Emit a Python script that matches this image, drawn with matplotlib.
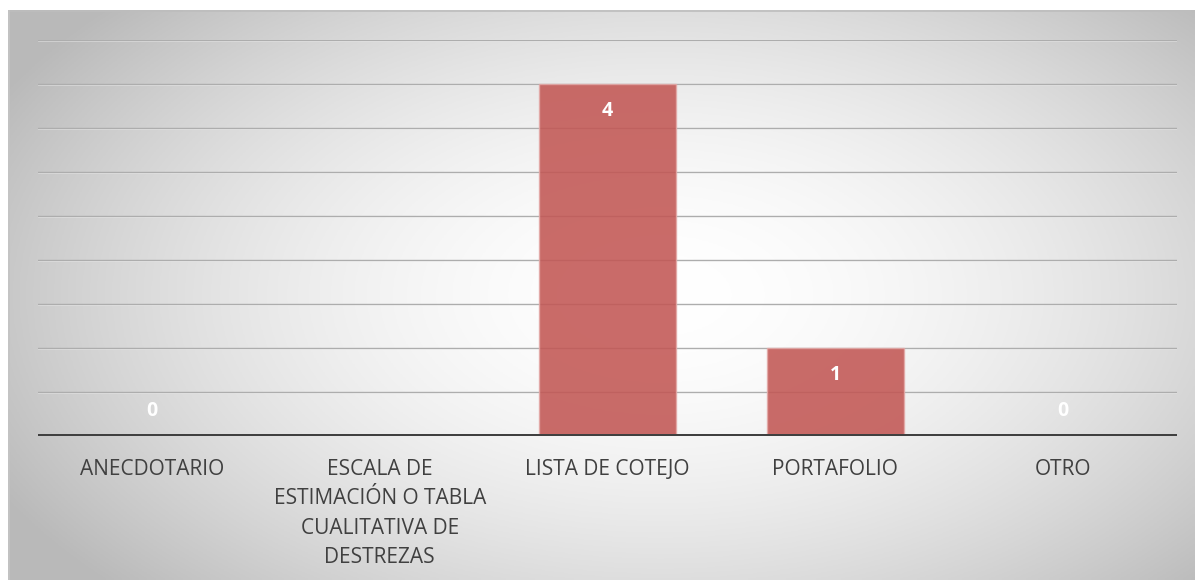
import numpy as np
import matplotlib
matplotlib.use("Agg")
import matplotlib.pyplot as plt

categories = ["ANECDOTARIO",
              "ESCALA DE\nESTIMACIÓN O TABLA\nCUALITATIVA DE\nDESTREZAS",
              "LISTA DE COTEJO", "PORTAFOLIO", "OTRO"]
values = [0, np.nan, 4, 1, 0]
y_max = 4.5
grid_step = 0.5

W, H = 1195, 580
fig = plt.figure(figsize=(W / 100, H / 100), dpi=100)
fig.patch.set_facecolor("white")

# background radial gradient
bx0, by1 = 8 / W, 1 - 10 / H
bg = fig.add_axes([bx0, 0, 1 - bx0, by1])
bg.set_axis_off()
nx, ny = 400, 200
xs = np.linspace(0, 1, nx)
ys = np.linspace(0, 1, ny)
X, Y = np.meshgrid(xs, ys)
cx, cy = 0.55, 0.5
R = np.sqrt(((X - cx) / 0.6) ** 2 + ((Y - cy) / 0.72) ** 2)
val = 1 - 0.25 * np.clip(R, 0, 1.05) ** 1.8
img = np.dstack([val, val, val])
bg.imshow(img, extent=[0, 1, 0, 1], origin="upper", aspect="auto")
bg.set_xlim(0, 1)
bg.set_ylim(0, 1)
bg.plot([0, 1], [0.998, 0.998], color="#BDBDBD", lw=1.2)
bg.plot([0.001, 0.001], [0, 1], color="#C4C4C4", lw=1.2)

ax = fig.add_axes([38 / W, 1 - 436 / H, (1177 - 38) / W, (436 - 40) / H])
ax.patch.set_alpha(0)
x = np.arange(len(categories))
bars = ax.bar(x, np.nan_to_num(values), width=0.6, color="#C25754", alpha=0.88,
              edgecolor="#E3A9A7", linewidth=1, zorder=3)
ax.set_xlim(-0.5, len(categories) - 0.5)
ax.set_ylim(0, y_max)
for gy in np.arange(grid_step, y_max + 0.01, grid_step):
    ax.axhline(gy, color="#ADADAD", lw=1.0, zorder=1)
    ax.axhline(gy - 0.012, color="#F2F2F2", lw=0.6, alpha=0.5, zorder=1)
ax.axhline(0, color="#404040", lw=3.6, zorder=4)

for xi, v in zip(x, values):
    if np.isnan(v):
        continue
    off = -27 if v > 0 else 25
    ax.annotate(f"{v:g}", (xi, v), xytext=(0, off), textcoords="offset pixels",
                ha="center", va="center", color="white", fontsize=14,
                fontweight="bold", family="Open Sans", zorder=5)

ax.set_xticks(x)
ax.set_xticklabels(categories, fontsize=15, color="#404040", family="Open Sans",
                   linespacing=1.52)
ax.tick_params(axis="x", length=0, pad=16.5)
ax.set_yticks([])
for s in ax.spines.values():
    s.set_visible(False)

fig.savefig("out.png", dpi=100, facecolor="white")
